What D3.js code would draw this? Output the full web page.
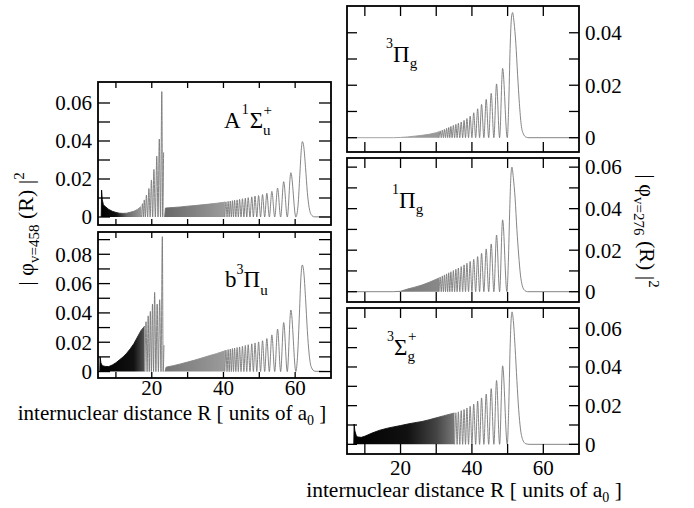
<!DOCTYPE html>
<html><head><meta charset="utf-8">
<script src="https://cdn.jsdelivr.net/npm/d3@7"></script>
<style>
body{margin:0;background:#fff}
svg{display:block}
</style>
</head><body>
<svg id="c" width="694" height="508" font-family="'Liberation Serif', 'DejaVu Serif', serif"></svg>
<script>
// ---------------- DATA ----------------
const xTickValues = [10, 20, 30, 40, 50, 60];
const xTickLabels = [20, 40, 60];

// A 1Sigma_u+  (upper left)
const aDense1R   = [5.9, 6.0, 6.2, 6.5, 7, 8, 9, 10, 11, 12, 13, 14, 15, 16, 17];
const aDense1Top = [0, 0.0142, 0.009, 0.0065, 0.0055, 0.004, 0.003, 0.0024, 0.002, 0.0019, 0.002, 0.0025, 0.003, 0.004, 0.0055];
const aPeaksR = [17.4, 17.9, 18.5, 19.2, 19.9, 20.6, 21.4, 22.1, 22.8, 23.3];
const aPeaksV = [0.007, 0.009, 0.0115, 0.015, 0.0195, 0.025, 0.032, 0.041, 0.066, 0.034];
const aDense2R   = [23.6, 23.8, 26, 28, 30, 32, 34, 36, 38, 40, 40.4];
const aDense2Top = [0, 0.0047, 0.005, 0.0053, 0.0057, 0.006, 0.0064, 0.0068, 0.0072, 0.0077, 0.0079];
const aOuterR = [40.7, 41.3, 41.9, 42.5, 43.1, 43.8, 44.5, 45.3, 46.1, 46.9, 47.9, 48.8, 49.8, 50.9, 52.1, 53.5, 55.1, 56.8, 58.8];
const aOuterV = [0.008, 0.0082, 0.0084, 0.0086, 0.0088, 0.009, 0.0093, 0.0096, 0.0099, 0.0102, 0.0106, 0.011, 0.0113, 0.0118, 0.0125, 0.0135, 0.0152, 0.0186, 0.0233];
const aTailR = [60.2, 60.8, 61.3, 61.7, 62.0, 62.4, 62.9, 63.4, 63.9, 64.5, 65.3, 70];
const aTailV = [0, 0.006, 0.022, 0.035, 0.0397, 0.037, 0.026, 0.013, 0.005, 0.0012, 0.0001, 0];

// b 3Pi_u  (lower left)
const bDense1R   = [5.5, 5.6, 5.8, 6.2, 7, 8, 9, 10, 11, 12, 13, 14, 15, 16, 17, 18];
const bDense1Top = [0, 0.010, 0.006, 0.004, 0.0035, 0.0034, 0.0045, 0.006, 0.008, 0.010, 0.0125, 0.0155, 0.019, 0.0235, 0.028, 0.031];
const bPeaksR = [18.4, 19.0, 19.6, 20.2, 20.8, 21.5, 22.2, 22.95, 23.4];
const bPeaksV = [0.034, 0.038, 0.041, 0.046, 0.054, 0.046, 0.049, 0.092, 0.018];
const bDense2R   = [23.7, 24, 26, 28, 30, 32, 34, 36, 38, 40, 40.4];
const bDense2Top = [0, 0.003, 0.004, 0.0052, 0.0065, 0.0078, 0.0093, 0.0108, 0.0122, 0.0138, 0.0143];
const bOuterR = [40.7, 41.3, 41.9, 42.5, 43.1, 43.8, 44.5, 45.3, 46.1, 46.9, 47.9, 48.8, 49.8, 50.9, 52.1, 53.5, 55.1, 56.8, 58.8];
const bOuterV = [0.0146, 0.015, 0.0153, 0.0157, 0.016, 0.0164, 0.0168, 0.0173, 0.0178, 0.0183, 0.0189, 0.0195, 0.0202, 0.021, 0.0225, 0.025, 0.029, 0.0334, 0.042];
const bTailR = [60.2, 60.7, 61.2, 61.6, 62.0, 62.4, 62.9, 63.4, 63.9, 64.5, 65.5, 70];
const bTailV = [0, 0.012, 0.04, 0.064, 0.0727, 0.068, 0.05, 0.028, 0.012, 0.003, 0.0002, 0];

// 3Pi_g  (upper right)
const tDenseR   = [5, 18, 20, 22, 24, 26, 28, 30, 30.8];
const tDenseTop = [0, 0, 0.0001, 0.0003, 0.0006, 0.0009, 0.0013, 0.0019, 0.0023];
const rightPeaksR = [31.1, 31.7, 32.3, 32.9, 33.5, 34.1, 34.8, 35.5, 36.2, 37.0, 37.8, 38.6, 39.5, 40.5, 41.6, 42.7, 44.0, 45.4, 46.9, 48.6];
const tPeaksV = [0.0026, 0.0029, 0.0032, 0.0036, 0.0039, 0.0043, 0.0047, 0.0051, 0.0055, 0.006, 0.0066, 0.0073, 0.0082, 0.0095, 0.011, 0.0127, 0.0146, 0.0169, 0.0205, 0.0264];
const tTailR = [49.9, 50.3, 50.7, 51.1, 51.4, 51.8, 52.3, 52.8, 53.3, 53.8, 54.4, 55.2, 56, 70];
const tTailV = [0, 0.012, 0.034, 0.046, 0.0477, 0.044, 0.036, 0.024, 0.013, 0.005, 0.0015, 0.0002, 0, 0];

// 1Pi_g  (middle right)
const mDenseR   = [5, 18, 20, 22, 24, 26, 28, 30, 30.8];
const mDenseTop = [0, 0, 0.0002, 0.0013, 0.0022, 0.0032, 0.0045, 0.006, 0.0066];
const mPeaksV = [0.0071, 0.0076, 0.0081, 0.0086, 0.0091, 0.0096, 0.0102, 0.0108, 0.0114, 0.0121, 0.0129, 0.0137, 0.0146, 0.0156, 0.0169, 0.0185, 0.0206, 0.023, 0.0273, 0.0346];
const mTailR = [49.8, 50.2, 50.6, 50.9, 51.2, 51.6, 52.1, 52.6, 53.1, 53.6, 54.1, 54.8, 55.6, 70];
const mTailV = [0, 0.014, 0.04, 0.055, 0.060, 0.055, 0.045, 0.030, 0.0177, 0.008, 0.003, 0.0006, 0, 0];

// 3Sigma_g+  (lower right)
const sDenseR   = [6.9, 7.0, 7.2, 7.6, 8, 9, 10, 12, 14, 16, 18, 20, 22, 24, 26, 28, 30, 32, 34, 35.1];
const sDenseTop = [0, 0.0105, 0.007, 0.0045, 0.0038, 0.0036, 0.0042, 0.0058, 0.0072, 0.0082, 0.009, 0.0097, 0.0105, 0.0112, 0.0118, 0.0127, 0.0137, 0.0147, 0.0157, 0.0162];
const sPeaksR = [35.5, 36.2, 37.0, 37.8, 38.6, 39.5, 40.5, 41.6, 42.7, 44.0, 45.4, 46.9, 48.6];
const sPeaksV = [0.0163, 0.0168, 0.0174, 0.018, 0.0188, 0.0197, 0.0208, 0.0224, 0.024, 0.026, 0.0288, 0.033, 0.0406];
const sTailR = [49.9, 50.3, 50.7, 51.0, 51.25, 51.6, 52.1, 52.6, 53.1, 53.6, 54.2, 55, 56, 70];
const sTailV = [0, 0.018, 0.05, 0.065, 0.0685, 0.064, 0.05, 0.033, 0.018, 0.008, 0.0025, 0.0004, 0, 0];

const yLabelsTL = [0, 0.02, 0.04, 0.06];
const yLabelsBL = [0, 0.02, 0.04, 0.06, 0.08];
const yLabelsTR = [0, 0.02, 0.04];
const yLabelsMR = [0, 0.02, 0.04, 0.06];
const yLabelsBR = [0, 0.02, 0.04, 0.06];

// ---------------- DRAWING ----------------
const FONT = "'Liberation Serif', 'DejaVu Serif', serif";
const svg = d3.select("#c");
const defs = svg.append("defs");
let gradId = 0;

const zip = (a, b) => a.map((d, i) => [d, b[i]]);

function lobes(R, V) {
  const pts = [];
  for (let i = 0; i < R.length; i++) {
    if (i === 0) pts.push([R[0] - (R[1] - R[0]) / 2, 0]);
    pts.push([R[i], V[i]]);
    if (i < R.length - 1) pts.push([(R[i] + R[i + 1]) / 2, 0]);
  }
  return pts;
}

const panels = [
  {x0: 98, x1: 331, y0: 82, y1: 225, dom: [-0.00421, 0.07105], labels: yLabelsTL, side: "left", xlab: false, tx: 6, ty: 12, lx: 0,
   dense: [{d: zip(aDense1R, aDense1Top), stops: [[6, "#000"], [10, "#111"], [13, "#666"], [17, "#999"]]},
           {d: zip(aDense2R, aDense2Top), stops: [[24, "#6a6a6a"], [40, "#9a9a9a"]]}],
   lines: [lobes(aPeaksR, aPeaksV), lobes(aOuterR, aOuterV).concat(zip(aTailR, aTailV))]},
  {x0: 98, x1: 331, y0: 232, y1: 378, dom: [-0.0044, 0.0952], labels: yLabelsBL, side: "left", xlab: true, tx: 6, ty: 12, lx: 17,
   dense: [{d: zip(bDense1R, bDense1Top), stops: [[6, "#000"], [15, "#111"], [18, "#555"]]},
           {d: zip(bDense2R, bDense2Top), stops: [[24, "#777"], [40, "#9a9a9a"]]}],
   lines: [lobes(bPeaksR, bPeaksV), lobes(bOuterR, bOuterV).concat(zip(bTailR, bTailV))]},
  {x0: 347, x1: 579, y0: 6, y1: 152, dom: [-0.00545, 0.0502], labels: yLabelsTR, side: "right", xlab: false, tx: 10, ty: 10, lx: 0,
   dense: [{d: zip(tDenseR, tDenseTop), stops: [[18, "#999"], [30, "#999"]]}],
   lines: [lobes(rightPeaksR, tPeaksV).concat(zip(tTailR, tTailV))]},
  {x0: 347, x1: 579, y0: 158, y1: 302, dom: [-0.00496, 0.0644], labels: yLabelsMR, side: "right", xlab: false, tx: 10, ty: 10, lx: 0,
   dense: [{d: zip(mDenseR, mDenseTop), stops: [[20, "#777"], [30, "#888"]]}],
   lines: [lobes(rightPeaksR, mPeaksV).concat(zip(mTailR, mTailV))]},
  {x0: 347, x1: 579, y0: 308, y1: 454, dom: [-0.0050, 0.0705], labels: yLabelsBR, side: "right", xlab: true, tx: 10, ty: 10, lx: 21,
   dense: [{d: zip(sDenseR, sDenseTop), stops: [[7, "#000"], [22, "#111"], [30, "#444"], [35, "#777"]]}],
   lines: [lobes(sPeaksR, sPeaksV).concat(zip(sTailR, sTailV))]}
];

const fmt = v => v === 0 ? "0" : d3.format(".2f")(v);

panels.forEach(p => {
  const x = d3.scaleLinear().domain([5, 70]).range([p.x0, p.x1]);
  const y = d3.scaleLinear().domain(p.dom).range([p.y1, p.y0]);
  const g = svg.append("g");
  const cid = "clip" + (gradId++);
  defs.append("clipPath").attr("id", cid).append("rect")
    .attr("x", p.x0).attr("y", p.y0).attr("width", p.x1 - p.x0).attr("height", p.y1 - p.y0);
  const plot = g.append("g").attr("clip-path", `url(#${cid})`);

  p.dense.forEach(dn => {
    const id = "gr" + (gradId++);
    const lg = defs.append("linearGradient").attr("id", id)
      .attr("gradientUnits", "userSpaceOnUse")
      .attr("x1", p.x0).attr("x2", p.x1).attr("y1", 0).attr("y2", 0);
    dn.stops.forEach(s => lg.append("stop")
      .attr("offset", (x(s[0]) - p.x0) / (p.x1 - p.x0)).attr("stop-color", s[1]));
    plot.append("path").datum(dn.d)
      .attr("d", d3.area().x(d => x(d[0])).y0(y(0)).y1(d => y(d[1])))
      .attr("fill", `url(#${id})`);
    plot.append("path").datum(dn.d)
      .attr("d", d3.line().x(d => x(d[0])).y(d => y(d[1])))
      .attr("fill", "none").attr("stroke", `url(#${id})`).attr("stroke-width", 0.9);
  });

  p.lines.forEach(pts => {
    plot.append("path").datum(pts)
      .attr("d", d3.line().x(d => x(d[0])).y(d => y(d[1])).curve(d3.curveMonotoneX))
      .attr("fill", "none").attr("stroke", "#777").attr("stroke-width", 0.9);
  });

  const yt = d3.range(0, p.dom[1], 0.01).filter(v => y(v) > p.y0 + 3);
  const tk = g.append("g").attr("stroke", "#000").attr("stroke-width", 1.3);
  yt.forEach(v => {
    tk.append("line").attr("x1", p.x0).attr("x2", p.x0 + p.ty).attr("y1", y(v)).attr("y2", y(v));
    tk.append("line").attr("x1", p.x1).attr("x2", p.x1 - p.ty).attr("y1", y(v)).attr("y2", y(v));
  });
  xTickValues.forEach(v => {
    tk.append("line").attr("x1", x(v)).attr("x2", x(v)).attr("y1", p.y0).attr("y2", p.y0 + p.tx);
    tk.append("line").attr("x1", x(v)).attr("x2", x(v)).attr("y1", p.y1).attr("y2", p.y1 - p.tx);
  });

  g.append("rect").attr("x", p.x0).attr("y", p.y0).attr("width", p.x1 - p.x0).attr("height", p.y1 - p.y0)
    .attr("fill", "none").attr("stroke", "#000").attr("stroke-width", 1.8);

  p.labels.forEach(v => {
    g.append("text").attr("font-family", FONT)
      .attr("x", p.side === "left" ? p.x0 - 6 : p.x1 + 6)
      .attr("y", y(v)).attr("dy", "0.35em")
      .attr("text-anchor", p.side === "left" ? "end" : "start")
      .attr("font-size", 21).text(fmt(v));
  });
  if (p.xlab) {
    xTickLabels.forEach(v => {
      g.append("text").attr("font-family", FONT).attr("x", x(v)).attr("y", p.y1 + p.lx)
        .attr("text-anchor", "middle").attr("font-size", 21).text(v);
    });
  }
});

function richText(x0, yb, parts) {
  const t = svg.append("text").attr("font-family", FONT).attr("x", x0).attr("y", yb);
  parts.forEach(pt => {
    const s = t.append("tspan").attr("font-size", pt.s || 23).text(pt.t);
    if (pt.dy) s.attr("dy", pt.dy);
    if (pt.dx) s.attr("dx", pt.dx);
  });
}
richText(224, 128, [{t: "A"}, {t: "1", s: 14, dy: -14, dx: 1}, {t: "Σ", dy: 14, dx: 1}, {t: "u", s: 15, dy: 7}, {t: "+", s: 15, dy: -20, dx: -7}]);
richText(225, 287, [{t: "b"}, {t: "3", s: 14, dy: -13}, {t: "Π", dy: 13}, {t: "u", s: 15, dy: 8}]);
richText(386, 62, [{t: "3", s: 14, dy: -14}, {t: "Π", dy: 14}, {t: "g", s: 15, dy: 6}]);
richText(392, 208, [{t: "1", s: 14, dy: -14}, {t: "Π", dy: 14}, {t: "g", s: 15, dy: 6}]);
richText(387, 355, [{t: "3", s: 14, dy: -14}, {t: "Σ", dy: 14}, {t: "g", s: 15, dy: 6}, {t: "+", s: 15, dy: -20, dx: -7}]);

function xTitle(cx, yb, fs) {
  const t = svg.append("text").attr("font-family", FONT).attr("x", cx).attr("y", yb)
    .attr("text-anchor", "middle").attr("font-size", fs);
  t.append("tspan").text("internuclear distance R [ units of a");
  t.append("tspan").attr("font-size", 14).attr("dy", 5).text("0");
  t.append("tspan").attr("dy", -5).text(" ]");
}
xTitle(172, 419.5, 21);
xTitle(464, 497, 21.5);

function yTitle(cx, cy, rot, sub) {
  const t = svg.append("text").attr("font-family", FONT)
    .attr("transform", `translate(${cx},${cy}) rotate(${rot})`)
    .attr("text-anchor", "middle").attr("font-size", 22).attr("dy", "0.35em");
  t.append("tspan").text("| φ");
  t.append("tspan").attr("font-size", 15).attr("dy", 6).text(sub);
  t.append("tspan").attr("dy", -6).text(" (R) |");
  t.append("tspan").attr("font-size", 15).attr("dy", -9).text("2");
}
yTitle(25, 229, -90, "v=458");
yTitle(648, 231, 90, "v=276");
</script>
</body></html>
